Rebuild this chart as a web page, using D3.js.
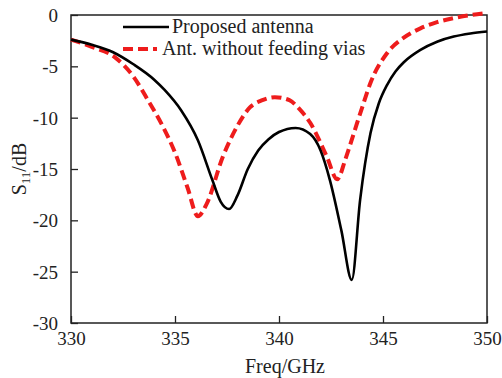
<!DOCTYPE html>
<html>
<head>
<meta charset="utf-8">
<script src="https://cdn.jsdelivr.net/npm/d3@7"></script>
<style>
  body { margin: 0; background: #fff; }
  text { font-family: "Liberation Serif", "DejaVu Serif", serif; fill: #222; }
</style>
</head>
<body>
<div id="container"></div>
<script>
/* CONSTANTS AND GLOBALS */
const width = 502
const height = 378
const margin = { top: 15, bottom: 55, left: 71, right: 15 }

// frequency (GHz) and S11 (dB)
const freqProposed = [330, 331, 332, 333, 334, 334.5, 335.3, 336.1, 336.8, 337.2, 337.6, 338.0, 338.5, 339, 339.5, 340, 340.8, 341.5, 342, 342.45, 343, 343.5, 343.9, 344.4, 344.8, 345.2, 345.6, 346, 346.8, 347.6, 348.4, 349.2, 350]
const s11Proposed = [-2.4, -2.9, -3.6, -4.8, -6.3, -7.3, -9.3, -12.2, -16.1, -18.2, -18.9, -17.6, -15.0, -13.2, -12.1, -11.4, -11.0, -11.6, -13.2, -16.1, -21, -25.8, -18, -11.5, -8.6, -6.8, -5.5, -4.6, -3.4, -2.6, -2.1, -1.8, -1.6]

const freqNoVias = [330, 331, 332.1, 333, 333.7, 334.4, 335, 335.6, 336.1, 336.5, 337.3, 338, 338.6, 339.2, 339.8, 340.5, 341, 341.5, 342.3, 342.8, 343.2, 343.6, 344, 344.4, 345.2, 346, 346.8, 347.6, 348.4, 349.2, 350]
const s11NoVias = [-2.4, -3.1, -4.1, -6.0, -8.3, -10.8, -13.4, -16.8, -19.6, -18.5, -13.8, -10.8, -9.0, -8.3, -8.0, -8.3, -9.2, -10.5, -13.8, -16.0, -14, -11.5, -9, -6.6, -3.7, -2.2, -1.3, -0.7, -0.3, 0, 0.2]

const xTicks = [330, 335, 340, 345, 350]
const yTicks = [0, -5, -10, -15, -20, -25, -30]

const series = [
  { name: "Proposed antenna", x: freqProposed, y: s11Proposed, color: "#000", width: 2.6, dash: null },
  { name: "Ant. without feeding vias", x: freqNoVias, y: s11NoVias, color: "#ee1c1c", width: 4, dash: "10,5" }
]

// SCALES
const xScale = d3.scaleLinear()
  .domain([330, 350])
  .range([margin.left, width - margin.right])

const yScale = d3.scaleLinear()
  .domain([-30, 0])
  .range([height - margin.bottom, margin.top])

// CREATE SVG ELEMENT
const svg = d3.select("#container")
  .append("svg")
  .attr("width", width)
  .attr("height", height)

// AXES (ticks point inward, plain hyphen for minus)
const xAxis = d3.axisBottom(xScale)
  .tickValues(xTicks)
  .tickFormat(d => String(d))
  .tickSizeInner(-7)
  .tickSizeOuter(0)
  .tickPadding(9)

const xAxisGroup = svg.append("g")
  .attr("transform", `translate(0, ${height - margin.bottom})`)
  .call(xAxis)

const yAxis = d3.axisLeft(yScale)
  .tickValues(yTicks)
  .tickFormat(d => String(d))
  .tickSizeInner(-7)
  .tickSizeOuter(0)
  .tickPadding(13)

const yAxisGroup = svg.append("g")
  .attr("transform", `translate(${margin.left}, 0)`)
  .call(yAxis)

svg.selectAll(".tick text")
  .style("font-size", "19px")
  .attr("fill", "#222")
svg.selectAll(".tick line").attr("stroke", "#222").attr("stroke-width", 1.3)
svg.selectAll(".domain").remove()
yAxisGroup.selectAll(".tick text").attr("dy", "0.35em")

// frame
svg.append("rect")
  .attr("x", margin.left)
  .attr("y", margin.top)
  .attr("width", width - margin.left - margin.right)
  .attr("height", height - margin.top - margin.bottom)
  .attr("fill", "none")
  .attr("stroke", "#222")
  .attr("stroke-width", 1.5)

// axis labels
svg.append("text")
  .attr("x", 285)
  .attr("y", 373)
  .attr("text-anchor", "middle")
  .style("font-size", "20px")
  .text("Freq/GHz")

const yLabel = svg.append("text")
  .attr("transform", `translate(26, ${yScale(-15)}) rotate(-90)`)
  .attr("text-anchor", "middle")
  .style("font-size", "20px")
yLabel.append("tspan").text("S")
yLabel.append("tspan").attr("dy", 4).style("font-size", "13px").text("11")
yLabel.append("tspan").attr("dy", -4).text("/dB")

// LINE GENERATOR
const line = d3.line()
  .x(d => xScale(d[0]))
  .y(d => yScale(d[1]))
  .curve(d3.curveMonotoneX)

// draw red first so black sits on top where they meet
series.slice().reverse().forEach(s => {
  svg.append("path")
    .datum(d3.zip(s.x, s.y))
    .attr("fill", "none")
    .attr("stroke", s.color)
    .attr("stroke-width", s.width)
    .attr("stroke-dasharray", s.dash)
    .attr("d", line)
})

// LEGEND
const legend = svg.append("g")
series.forEach((s, i) => {
  const y = 27 + i * 22
  legend.append("line")
    .attr("x1", 123).attr("x2", i === 0 ? 169 : 157)
    .attr("y1", y).attr("y2", y)
    .attr("stroke", s.color)
    .attr("stroke-width", s.width)
    .attr("stroke-dasharray", s.dash)
  legend.append("text")
    .attr("x", i === 0 ? 172 : 162)
    .attr("y", y + 6)
    .style("font-size", "20px")
    .text(s.name)
})
</script>
</body>
</html>
